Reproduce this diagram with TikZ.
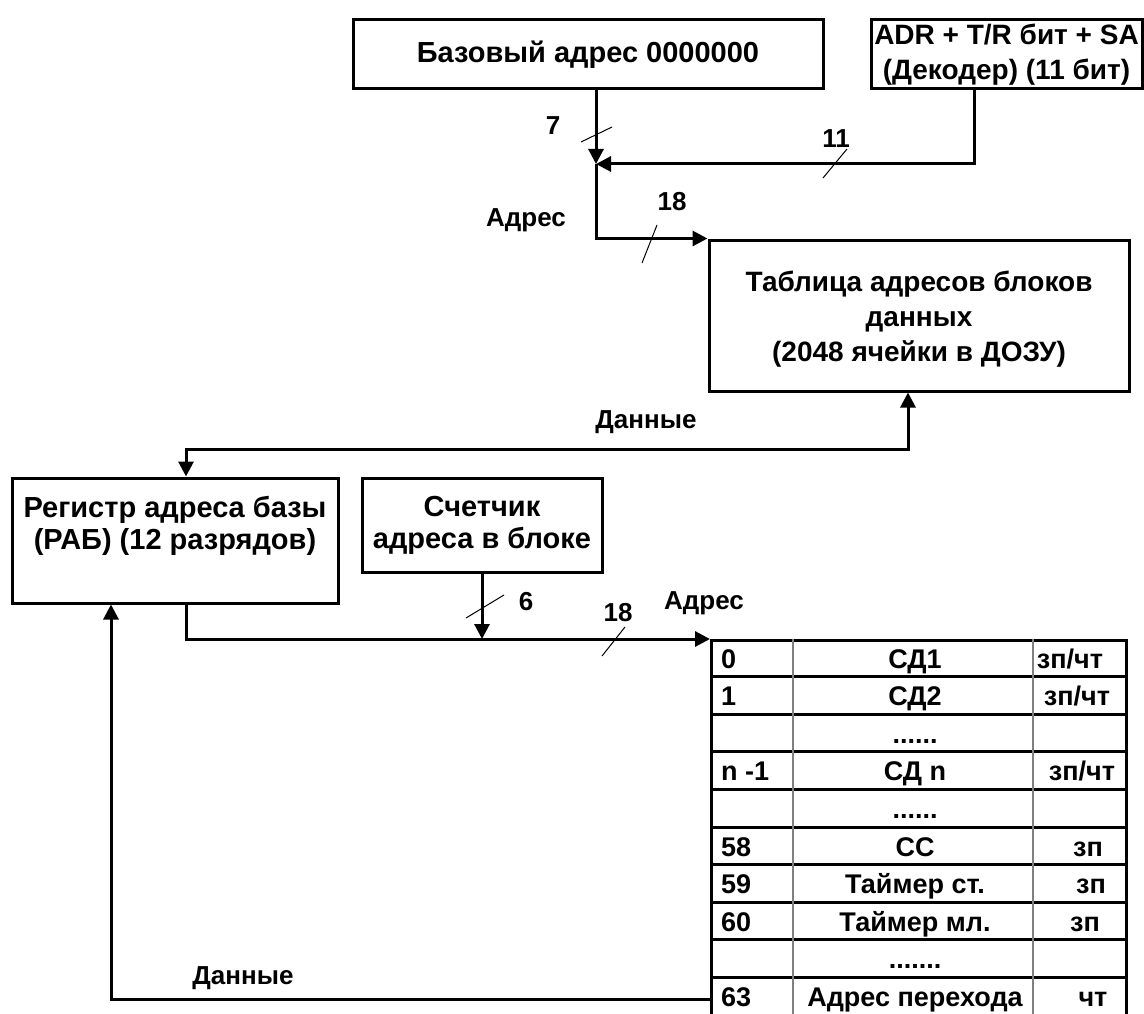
\documentclass[tikz,border=0pt]{standalone}
\usepackage{fontspec}
\setmainfont{Liberation Sans}
\usetikzlibrary{arrows.meta,positioning,calc}
\tikzstyle{block} = [draw, rectangle, line width=3pt, inner sep=0pt, align=center, font=\fontsize{29}{35}\selectfont\bfseries]
\tikzstyle{bus} = [line width=3pt]
\tikzstyle{tick} = [line width=1pt]
\tikzstyle{grid} = [line width=1.2pt, gray]
\tikzstyle{lbl} = [inner sep=0pt]
\tikzstyle{cell} = [inner sep=0pt, font=\fontsize{27}{32}\selectfont\bfseries]
\newcommand{\gapsix}{......}
\newcommand{\gapseven}{.......}

\begin{document}
\begin{tikzpicture}[x=1pt, y=-1pt, >={Triangle[length=15pt,width=15pt]},
    font=\fontsize{26}{34}\selectfont\bfseries]
    \useasboundingbox (0,0) rectangle (1144,1014);
    % Blocks
    \node [block, minimum width=470pt, minimum height=69pt] (base) at (588,54.5) {Базовый адрес 0000000};
    \node [block, minimum width=271pt, minimum height=69pt, font=\fontsize{28}{35}\selectfont\bfseries] (decoder) at (1006.5,54.5) {ADR + T/R бит + SA\\(Декодер) (11 бит)};
    \node [block, minimum width=420pt, minimum height=151pt] (addrtab) at (919,315.5) {};
    \node [lbl, align=center, font=\fontsize{28}{35}\selectfont\bfseries, yshift=-4pt] (addrtext) at (addrtab) {Таблица адресов блоков\\данных\\(2048 ячейки в ДОЗУ)};
    \node [block, minimum width=326pt, minimum height=125pt] (rab) at (175,540.5) {};
    \node [lbl, below=20pt of rab.north, align=center, font=\fontsize{29}{32}\selectfont\bfseries] (rabtext) {Регистр адреса базы\\(РАБ) (12 разрядов)};
    \node [block, minimum width=240pt, minimum height=94pt, font=\fontsize{29}{32}\selectfont\bfseries] (counter) at (482,525) {Счетчик\\адреса в блоке};
    \node [block, minimum width=415pt, minimum height=376pt, anchor=north west] (subaddr) at (710,639) {};

    % Block of subaddresses
    \foreach \k in {1,...,9}
        \draw [bus] ($(subaddr.north west)+(0,\k*37.6)$) -- ++(415,0);
    \draw [grid] ($(subaddr.north west)+(83,0)$) -- ($(subaddr.south west)+(83,0)$);
    \draw [grid] ($(subaddr.north west)+(323,0)$) -- ($(subaddr.south west)+(323,0)$);
    \foreach \k/\num/\name/\mode/\mx in {0/0/СД1/{зп/чт}/1070, 1/1/СД2/{зп/чт}/1077,
        2/{}/\gapsix/{}/1080, 3/{n -1}/СД n/{зп/чт}/1082, 4/{}/\gapsix/{}/1080,
        5/58/СС/зп/1088, 6/59/Таймер ст./зп/1091, 7/60/Таймер мл./зп/1085,
        8/{}/\gapseven/{}/1080, 9/63/Адрес перехода/чт/1093}
    {
        \node [cell, anchor=base west] (num\k) at (721,668+\k*37.6) {\num};
        \node [cell, anchor=base] (name\k) at (915,668+\k*37.6) {\name};
        \node [cell, anchor=base] (mode\k) at (\mx,668+\k*37.6) {\mode};
    }

    % Connections
    \coordinate (join) at (596,164);
    \coordinate (dataup) at (908,449);
    \coordinate (datadown) at (186,449);
    \coordinate (memout) at (710,999);
    \coordinate (feedback) at (111,999);
    \draw [bus,->] (base.south -| join) -- (join);
    \draw [bus,->] ([xshift=-32.5pt]decoder.south) |- (join);
    \draw [bus,->] (join) |- (addrtab.north west);
    \draw [bus,<->] (addrtab.south -| dataup) -- (dataup) -- (datadown) -- (rab.north -| datadown);
    \draw [bus,->] (rab.south -| datadown) |- (subaddr.north west);
    \draw [bus,->] (counter.south) -- (counter.south |- subaddr.north);
    \draw [bus,->] (subaddr.west |- memout) -- (feedback) -- (rab.south -| feedback);

    % Bus widths
    \draw [tick] (581,142) -- (612,127);
    \draw [tick] (823,178) -- (847,149);
    \draw [tick] (642,263) -- (657,225);
    \draw [tick] (466,618) -- (504,595);
    \draw [tick] (602,656) -- (625,627);

    % Labels
    \node [lbl] (w7) at (553,126) {7};
    \node [lbl] (w11) at (836,139) {11};
    \node [lbl] (w18a) at (672,202) {18};
    \node [lbl] (adr1) at (526,220) {Адрес};
    \node [lbl] (data1) at (646,422) {Данные};
    \node [lbl] (w6) at (526,602) {6};
    \node [lbl] (w18b) at (618,613) {18};
    \node [lbl] (adr2) at (704,603) {Адрес};
    \node [lbl] (data2) at (243,978) {Данные};
\end{tikzpicture}
\end{document}
